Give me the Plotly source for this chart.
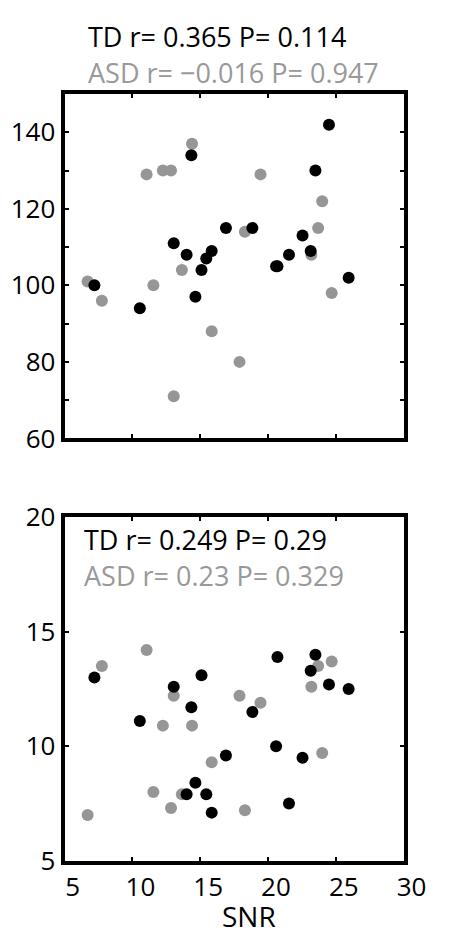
import plotly.graph_objects as go

# SNR per participant (shared by both panels)
td_snr = [7.2, 10.55, 13.05, 14.0, 14.35, 14.65, 15.1, 15.45, 15.85, 16.9,
          18.85, 20.7, 20.6, 21.55, 22.55, 23.15, 23.5, 24.5, 25.95]
asd_snr = [6.7, 7.75, 11.05, 11.55, 12.25, 12.85, 13.05, 13.65, 14.4, 15.85,
           17.9, 18.3, 19.45, 23.2, 23.7, 24.0, 24.7]

# Upper panel measure
td_upper = [100, 94, 111, 108, 134, 97, 104, 107, 109, 115,
            115, 105, 105, 108, 113, 109, 130, 142, 102]
asd_upper = [101, 96, 129, 100, 130, 130, 71, 104, 137, 88,
             80, 114, 129, 108, 115, 122, 98]

# Lower panel measure
td_lower = [13.0, 11.1, 12.6, 7.9, 11.7, 8.4, 13.1, 7.9, 7.1, 9.6,
            11.5, 13.9, 10.0, 7.5, 9.5, 13.3, 14.0, 12.7, 12.5]
asd_lower = [7.0, 13.5, 14.2, 8.0, 10.9, 7.3, 12.2, 7.9, 10.9, 9.3,
             12.2, 7.2, 11.9, 12.6, 13.5, 9.7, 13.7]

upper_stats = ["TD r= 0.365 P= 0.114", "ASD r= \u22120.016 P= 0.947"]
lower_stats = ["TD r= 0.249 P= 0.29", "ASD r= 0.23 P= 0.329"]
x_title = "SNR"

BLACK = "#000000"
GREY = "#969696"
GREY_TEXT = "#999999"
FONT = "Open Sans"

W, H = 456, 946


def px_x(p):
    return p / W


def px_y(p):
    return 1 - p / H


fig = go.Figure()

# ASD drawn first so TD sits on top where they overlap
for xa, ya, xs, ys in [("x", "y", asd_snr, asd_upper), ("x2", "y2", asd_snr, asd_lower)]:
    fig.add_trace(go.Scatter(x=xs, y=ys, xaxis=xa, yaxis=ya, mode="markers",
                             marker=dict(color=GREY, size=12, line=dict(width=0)),
                             showlegend=False, hoverinfo="skip"))
for xa, ya, xs, ys in [("x", "y", td_snr, td_upper), ("x2", "y2", td_snr, td_lower)]:
    fig.add_trace(go.Scatter(x=xs, y=ys, xaxis=xa, yaxis=ya, mode="markers",
                             marker=dict(color=BLACK, size=12, line=dict(width=0)),
                             showlegend=False, hoverinfo="skip"))

x_dom = [px_x(68), px_x(425)]
frame = dict(showline=True, linewidth=4, linecolor=BLACK, mirror="ticks",
             ticks="inside", ticklen=4, tickwidth=2, tickcolor=BLACK,
             showgrid=False, zeroline=False, fixedrange=True,
             tickfont=dict(family=FONT, size=26, color=BLACK))

fig.update_layout(
    width=W, height=H,
    margin=dict(l=0, r=0, t=0, b=0),
    paper_bgcolor="white", plot_bgcolor="white",
    font=dict(family=FONT, color=BLACK),
    xaxis=dict(domain=x_dom, range=[5, 30], dtick=5, tick0=5,
               showticklabels=False, anchor="y", **frame),
    yaxis=dict(domain=[px_y(436), px_y(78)], range=[60, 150], dtick=20, tick0=60,
               minor=dict(dtick=10, tick0=60, ticks="inside", ticklen=4,
                          tickwidth=2, tickcolor=BLACK),
               anchor="x", **frame),
    xaxis2=dict(domain=x_dom, range=[5, 30], dtick=5, tick0=5,
                ticklabelshift=8, anchor="y2", **frame),
    yaxis2=dict(domain=[px_y(875), px_y(518)], range=[5, 20], dtick=5, tick0=5,
                anchor="x2", **frame),
)

ann = []
for txt, col, yp in zip(upper_stats, [BLACK, GREY_TEXT], [18.5, 55.5]):
    ann.append(dict(text=txt, x=px_x(91), y=px_y(yp), xref="paper", yref="paper",
                    xanchor="left", yanchor="middle", showarrow=False,
                    font=dict(family=FONT, size=27, color=col)))
for txt, col, yp in zip(lower_stats, [BLACK, GREY_TEXT], [541.5, 578.5]):
    ann.append(dict(text=txt, x=px_x(86), y=px_y(yp), xref="paper", yref="paper",
                    xanchor="left", yanchor="middle", showarrow=False,
                    font=dict(family=FONT, size=27, color=col)))
ann.append(dict(text=x_title, x=px_x(262), y=px_y(932), xref="paper", yref="paper",
                xanchor="center", yanchor="middle", showarrow=False,
                font=dict(family=FONT, size=28, color=BLACK)))
fig.update_layout(annotations=ann)

fig.write_html("out.html")
